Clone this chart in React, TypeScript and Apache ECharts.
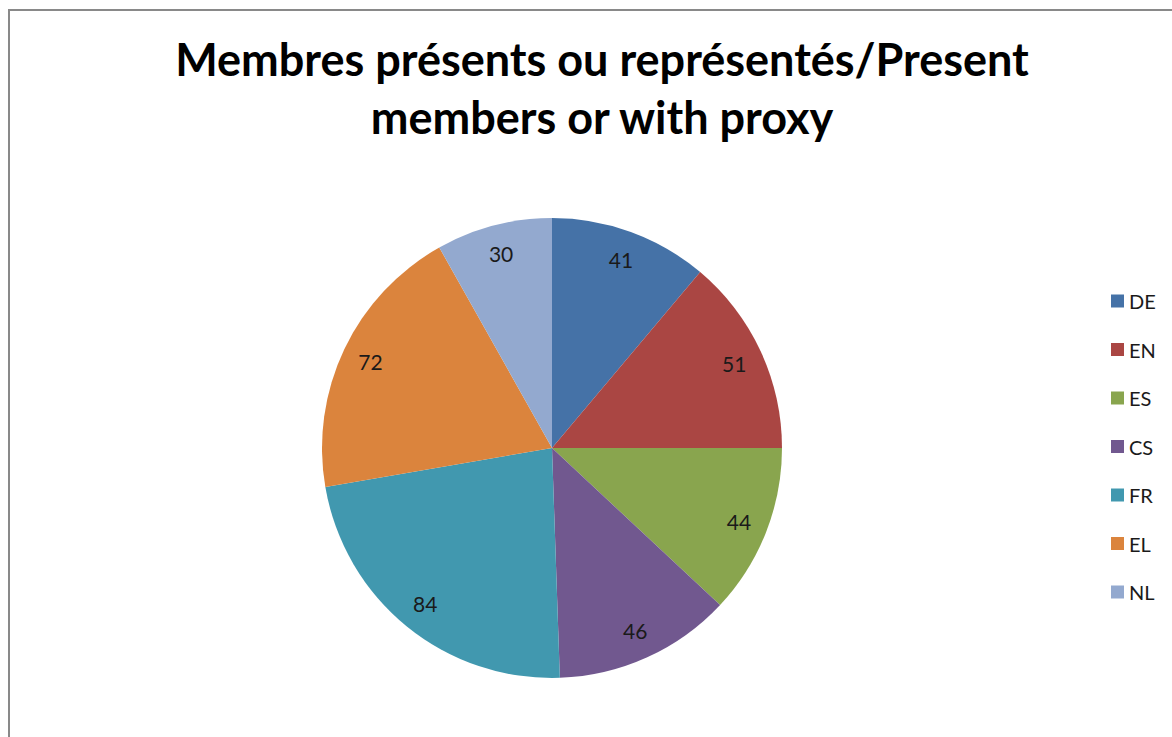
import React, { useEffect, useRef } from "react";
import * as echarts from "echarts";

const categories = ["DE", "EN", "ES", "CS", "FR", "EL", "NL"];
const values = [41, 51, 44, 46, 84, 72, 30];
const colors = ["#4572A7", "#AA4643", "#89A54E", "#71588F", "#4198AF", "#DB843D", "#93A9CF"];
const titleText = "Membres présents ou représentés/Present\nmembers or with proxy";

const FONT = "Lato, 'Open Sans', sans-serif";

export default function App() {
  const ref = useRef<HTMLDivElement>(null);
  useEffect(() => {
    document.body.style.margin = "0";
    const chart = echarts.init(ref.current!, null, { renderer: "svg" });
    const data = categories.map((c, i) => ({ name: c, value: values[i], itemStyle: { color: colors[i] } }));
    const labelData = categories.map((c, i) => ({ name: c, value: values[i] }));
    chart.setOption({
      animation: false,
      backgroundColor: "#ffffff",
      title: {
        text: titleText,
        left: 597,
        top: 25,
        textAlign: "center",
        textStyle: { fontFamily: FONT, fontWeight: "bold", fontSize: 45, lineHeight: 58, color: "#000" },
      },
      legend: {
        orient: "vertical",
        left: 1106,
        top: 286,
        itemWidth: 13,
        itemHeight: 13,
        itemGap: 28.5,
        icon: "rect",
        data: categories,
        textStyle: { fontFamily: FONT, fontSize: 20, lineHeight: 20, color: "#1a1a1a", padding: [0, 0, 0, 0] },
      },
      graphic: [
        { type: "line", shape: { x1: 9, y1: 10, x2: 9, y2: 737 }, style: { stroke: "#898989", lineWidth: 2 } },
        { type: "line", shape: { x1: 8, y1: 10, x2: 1172, y2: 10 }, style: { stroke: "#898989", lineWidth: 2 } },
      ],
      series: [
        {
          type: "pie",
          center: [552, 448],
          radius: 230,
          startAngle: 90,
          clockwise: true,
          label: { show: false },
          labelLine: { show: false },
          emphasis: { disabled: true },
          data,
        },
        {
          type: "pie",
          center: [552, 448],
          radius: [166, 230],
          startAngle: 90,
          clockwise: true,
          silent: true,
          itemStyle: { color: "rgba(0,0,0,0)" },
          label: {
            show: true,
            position: "inside",
            formatter: "{c}",
            fontFamily: FONT,
            fontSize: 21,
            color: "#1a1a1a",
          },
          labelLine: { show: false },
          emphasis: { disabled: true },
          data: labelData,
        },
      ],
    });
    return () => chart.dispose();
  }, []);
  return <div ref={ref} style={{ width: 1172, height: 737 }} />;
}
